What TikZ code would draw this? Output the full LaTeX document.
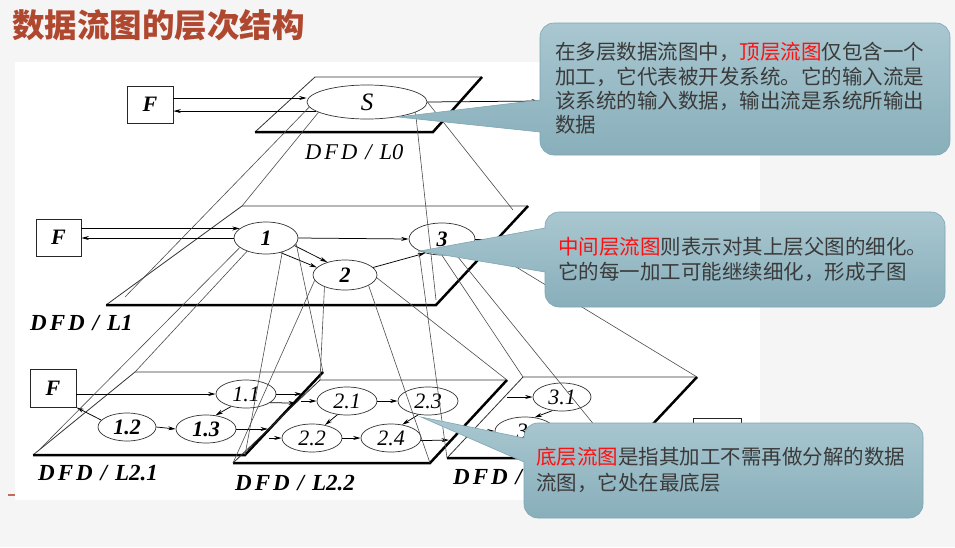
\documentclass[tikz,border=0pt]{standalone}
\usepackage{fontspec}
\setmainfont{Liberation Serif}
\newfontfamily\cjk{Noto Sans CJK SC}
\usetikzlibrary{arrows.meta,calc,shapes.geometric}

\definecolor{titlered}{HTML}{B0472F}
\definecolor{calloutTop}{HTML}{A9C7D0}
\definecolor{calloutBot}{HTML}{88AFBB}
\definecolor{calloutEdge}{HTML}{7DA6B3}
\definecolor{bodytext}{HTML}{3A3A3A}
\definecolor{keyred}{HTML}{FF1010}
\definecolor{slidebg}{HTML}{F5F5F5}

% level caption: spaced italic "DFD / Lx"
\newcommand{\dfdname}[1]{D\kern3pt F\kern3pt D\kern8pt/\kern8pt #1}

\tikzset{
  arr/.style={draw=black, line width=0.75pt, -{Stealth[length=7.5pt,width=4pt]}},
  proj/.style={draw=black!70, line width=0.6pt},
  thinedge/.style={draw=black!80, line width=0.8pt},
  thickedge/.style={draw=black, line width=2.5pt},
  proc/.style={ellipse, draw=black!80, line width=0.7pt, inner sep=0pt,
    font=\fontsize{22}{22}\selectfont\itshape},
  ext/.style={rectangle, draw=black!85, line width=0.8pt, inner sep=0pt,
    font=\fontsize{22}{22}\selectfont\bfseries\itshape},
  lvl/.style={anchor=west, inner sep=0pt, font=\fontsize{23}{23}\selectfont\bfseries\itshape},
  callout/.style={top color=calloutTop, bottom color=calloutBot, draw=calloutEdge, line width=0.6pt},
  note/.style={anchor=base west, inner sep=0pt, text=bodytext,
    font=\cjk\fontsize{20.5}{20.5}\selectfont},
}

\begin{document}
\begin{tikzpicture}[x=1pt,y=-1pt]
\fill[slidebg] (0,0) rectangle (955,547);
\useasboundingbox (0,0) rectangle (955,547);
\fill[white] (15,62) rectangle (760,500);
\draw[titlered!80, line width=1.2pt] (8,495) -- (15,495);

% title
\node[anchor=base west, inner sep=0pt, text=titlered,
      font=\cjk\bfseries\fontsize{32.5}{32.5}\selectfont] (title) at (12,37) {数据流图的层次结构};

% ---------- plane corners ----------
\coordinate (L0tl) at (315,77);  \coordinate (L0tr) at (482,77);
\coordinate (L0bl) at (255,132); \coordinate (L0br) at (433,132);
\coordinate (L1tl) at (242,206); \coordinate (L1tr) at (528,206);
\coordinate (L1bl) at (106,305); \coordinate (L1br) at (436,305);
\coordinate (L21tl) at (135,372); \coordinate (L21tr) at (323,372);
\coordinate (L21bl) at (33,455);  \coordinate (L21br) at (245,455);
\coordinate (L22tl) at (320,380); \coordinate (L22tr) at (507,380);
\coordinate (L22bl) at (233,463); \coordinate (L22br) at (430,463);
\coordinate (L23tl) at (523,377); \coordinate (L23tr) at (697,377);
\coordinate (L23bl) at (447,458); \coordinate (L23br) at (621,458);

% ---------- planes ----------
\foreach \p in {L0,L1,L21,L22,L23}{
  \draw[thinedge] (\p bl) -- (\p tl) -- (\p tr);
  \draw[thickedge] (\p bl) -- (\p br) -- (\p tr);
}

% ---------- top level ----------
\node[ext, minimum width=46pt, minimum height=37pt] (F0) at (150,104.5) {F};
\node[proc, minimum width=120pt, minimum height=34pt, font=\fontsize{25}{25}\selectfont\itshape] (S) at (367,102) {S};
\node[lvl, font=\fontsize{22.5}{22.5}\selectfont\itshape] (capL0) at (305,152) {\dfdname{L0}};

\coordinate (f0in) at ([yshift=6.5pt]F0.east);
\draw[arr] (f0in) -- (f0in -| S.west);
\draw[arr] (S.190) -- (S.190 -| F0.east);
\coordinate (s0out) at (539,101);
\draw[arr] (S.east) -- (s0out);

% ---------- level 1 ----------
\node[ext, minimum width=45pt, minimum height=37pt] (F1) at (58.5,237.5) {F};
\node[proc, minimum width=64pt, minimum height=32pt, font=\fontsize{22}{22}\selectfont\bfseries\itshape] (e1) at (266,238) {1};
\node[proc, minimum width=64pt, minimum height=30pt, font=\fontsize{22}{22}\selectfont\bfseries\itshape] (e2) at (345,275) {2};
\node[proc, minimum width=66pt, minimum height=32pt, font=\fontsize{22}{22}\selectfont\bfseries\itshape] (e3) at (442,239) {3};
\node[lvl] (capL1) at (30,323) {\dfdname{L1}};

\draw[arr] (e1.160 -| F1.east) -- (e1.160);
\draw[arr] (e1.west) -- (e1.west -| F1.east);
\draw[arr] (e1.east) -- (e3.west);
\draw[arr] (e1.-15) -- (e2.144);
\draw[arr] (e1.-45) -- (e2.165);
\draw[arr] (e2.15) -- (e3.220);
\coordinate (e3out) at (525,239);
\draw[line width=0.75pt] (e3.east) -- (e3out);

% ---------- level 2.1 ----------
\node[ext, minimum width=46pt, minimum height=38pt] (F21) at (53,388) {F};
\node[proc, minimum width=60pt, minimum height=28pt] (e11) at (246,394) {1.1};
\node[proc, minimum width=58pt, minimum height=28pt, font=\fontsize{22}{22}\selectfont\bfseries\itshape] (e12) at (127,427) {1.2};
\node[proc, minimum width=60pt, minimum height=28pt, font=\fontsize{22}{22}\selectfont\bfseries\itshape] (e13) at (206,429) {1.3};
\node[lvl] (capL21) at (38,473) {\dfdname{L2.1}};

\draw[arr] (e11.west -| F21.east) -- (e11.west);
\draw[arr] (e12.165) -- (F21.south east);
\draw[arr] (e12.east) -- (e13.west);
\draw[arr] (e11.220) -- (e13.55);
\coordinate (o11a) at (302,394);
\coordinate (o11b) at (296,403);
\coordinate (o13) at (268,429);
\draw[arr] (e11.east) -- (o11a);
\draw[arr] (e11.-20) -- (o11b);
\draw[arr] (e13.east) -- (o13);

% ---------- level 2.2 ----------
\node[proc, minimum width=60pt, minimum height=28pt] (e21) at (347,401) {2.1};
\node[proc, minimum width=60pt, minimum height=28pt] (e23) at (428,401) {2.3};
\node[proc, minimum width=60pt, minimum height=28pt] (e22) at (312,438) {2.2};
\node[proc, minimum width=60pt, minimum height=28pt] (e24) at (391,438) {2.4};
\node[lvl] (capL22) at (235,483) {\dfdname{L2.2}};

\coordinate (i21) at (301,401);
\coordinate (i22) at (269,438);
\coordinate (o24) at (449,440);
\draw[arr] (i21) -- (e21.west);
\draw[arr] (i22) -- (e22.west);
\draw[arr] (e21.east) -- (e23.west);
\draw[arr] (e21.235) -- (e22.45);
\draw[arr] (e22.east) -- (e24.west);
\draw[arr] (e23.235) -- (e24.50);
\draw[arr] (e24.-5) -- (o24);

% ---------- level 2.3 (partly under the note) ----------
\node[proc, minimum width=58pt, minimum height=28pt] (e31) at (562,397) {3.1};
\node[proc, minimum width=60pt, minimum height=28pt] (e32) at (525,431) {3.};
\node[ext, minimum width=48pt, minimum height=38pt] (F23) at (717,437) {};
\node[lvl] (capL23) at (453,477) {D\kern3pt F\kern3pt D\kern8pt/};

\coordinate (i31) at (507,397);
\coordinate (i32) at (475,431);
\draw[arr] (i31) -- (e31.west);
\draw[arr] (i32) -- (e32.west);
\draw[arr] (e31.235) -- (e32.55);

% ---------- decomposition lines ----------
\coordinate (p0a) at (125,297);
\coordinate (p0c) at (513,210);
\coordinate (p0d) at (436,300);
\draw[proj] (S.185) -- (p0a);
\draw[proj] (S.192) -- (L1tl);
\draw[proj] (S.east) -- (p0c);
\draw[proj] (S.-12) -- (p0d);

\coordinate (p1a) at (40,449);
\draw[proj] (e1.200) -- (p1a);
\draw[proj] (e1.215) -- (L21tl);
\draw[proj] (e1.-41) -- (L21br);
\draw[proj] (e1.-11) -- (L21tr);

\draw[proj] (e2.190) -- (L22bl);
\draw[proj] (e2.210) -- (L22tl);
\draw[proj] (e2.-24) -- (L22br);
\draw[proj] (e2.-5) -- (L22tr);

\draw[proj] (e3.207) -- (L23bl);
\draw[proj] (e3.270) -- (L23tl);
\draw[proj] (e3.-48) -- (L23br);
\draw[proj] (e3.-5) -- (L23tr);

% ---------- notes ----------
\path[callout] (398,117) [sharp corners] -- (540,132) [rounded corners=14pt] -- (540,155) -- (950,155)
  -- (950,23) -- (540,23) [sharp corners] -- (540,100) -- cycle;
\node[note] (n1a) at (555,59.8)  {在多层数据流图中，\textcolor{keyred}{顶层流图}仅包含一个};
\node[note] (n1b) at (555,84.3)  {加工，它代表被开发系统。它的输入流是};
\node[note] (n1c) at (555,108.3) {该系统的输入数据，输出流是系统所输出};
\node[note] (n1d) at (555,132.8) {数据};

\path[callout] (420,251) [sharp corners] -- (545,272) [rounded corners=14pt] -- (545,307) -- (945,307)
  -- (945,212) -- (545,212) [sharp corners] -- (545,228) -- cycle;
\node[note] (n2a) at (558,254.8) {\textcolor{keyred}{中间层流图}则表示对其上层父图的细化。};
\node[note] (n2b) at (558,279.8) {它的每一加工可能继续细化，形成子图};

\path[callout] (421,417) [sharp corners] -- (524,462) [rounded corners=14pt] -- (524,518) -- (923,518)
  -- (923,423) -- (524,423) [sharp corners] -- (524,438) -- cycle;
\node[note] (n3a) at (536,464.8) {\textcolor{keyred}{底层流图}是指其加工不需再做分解的数据};
\node[note] (n3b) at (536,490.8) {流图，它处在最底层};
\end{tikzpicture}
\end{document}
